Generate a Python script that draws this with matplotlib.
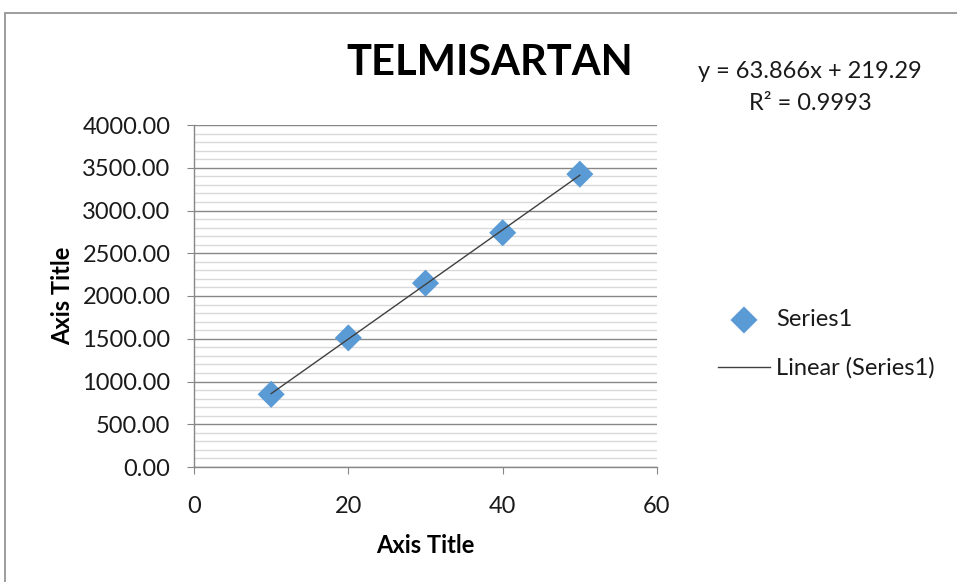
import numpy as np
import matplotlib.pyplot as plt
from matplotlib.patches import Rectangle
from matplotlib.ticker import MultipleLocator, FormatStrFormatter

plt.rcParams["font.family"] = ["Lato", "DejaVu Sans"]

# concentration vs. peak area
conc = [10, 20, 30, 40, 50]
area = [850, 1510, 2150, 2740, 3425]

# trendline as reported on the chart
slope = 63.866
intercept = 219.29
r_squared = 0.9993

grid_major = "#878787"
grid_minor = "#d9d9d9"
marker_blue = "#5b9bd5"
text_col = "#1a1a1a"

fig = plt.figure(figsize=(9.57, 5.82), dpi=100)
ax = fig.add_axes([194 / 957, 1 - 467 / 582, 463 / 957, 342 / 582])

# outer chart frame
fig.patches.append(Rectangle((5 / 957, -0.01), 1.0, 1 - 13 / 582 + 0.01,
                             transform=fig.transFigure, fill=False,
                             edgecolor="#8c8c8c", linewidth=1.2))

ax.set_xlim(0, 60)
ax.set_ylim(0, 4000)
ax.xaxis.set_major_locator(MultipleLocator(20))
ax.yaxis.set_major_locator(MultipleLocator(500))
ax.yaxis.set_minor_locator(MultipleLocator(100))
ax.yaxis.set_major_formatter(FormatStrFormatter("%.2f"))

ax.grid(axis="y", which="major", color=grid_major, linewidth=1.0)
ax.grid(axis="y", which="minor", color=grid_minor, linewidth=1.0)
ax.set_axisbelow(True)

for side in ["top", "right"]:
    ax.spines[side].set_visible(False)
for side in ["left", "bottom"]:
    ax.spines[side].set_color(grid_major)
    ax.spines[side].set_linewidth(1.0)

ax.tick_params(axis="both", which="major", direction="out", length=5,
               color=grid_major, labelsize=17, labelcolor=text_col)
ax.tick_params(axis="y", which="minor", length=0)
ax.tick_params(axis="x", pad=16)
ax.tick_params(axis="y", pad=12)

fit_x = np.array([min(conc), max(conc)])
fit_y = slope * fit_x + intercept

ax.scatter(conc, area, marker="D", s=190, color=marker_blue, zorder=3,
           label="Series1", edgecolors="none")
ax.plot(fit_x, fit_y, color="#404040", linewidth=1.0, zorder=4,
        label="Linear (Series1)")

ax.set_xlabel("Axis Title", fontsize=17, fontweight="bold", labelpad=12)
ax.set_ylabel("Axis Title", fontsize=17, fontweight="bold", labelpad=6)

fig.text(490 / 957, 1 - 63 / 582, "TELMISARTAN", fontsize=30,
         fontweight="bold", ha="center", va="center")
fig.text(810 / 957, 1 - 72 / 582, f"y = {slope}x + {intercept}",
         fontsize=17, ha="center", va="center", color=text_col)
fig.text(810 / 957, 1 - 104 / 582, f"R² = {r_squared}",
         fontsize=17, ha="center", va="center", color=text_col)

ax.legend(loc="center left", bbox_to_anchor=(718 / 957, 1 - 344 / 582),
          bbox_transform=fig.transFigure, frameon=False, fontsize=17,
          labelcolor=text_col, handlelength=2.2, handletextpad=0.25,
          labelspacing=1.15, borderpad=0, borderaxespad=0, scatterpoints=1)

fig.savefig("out.png", dpi=100)
